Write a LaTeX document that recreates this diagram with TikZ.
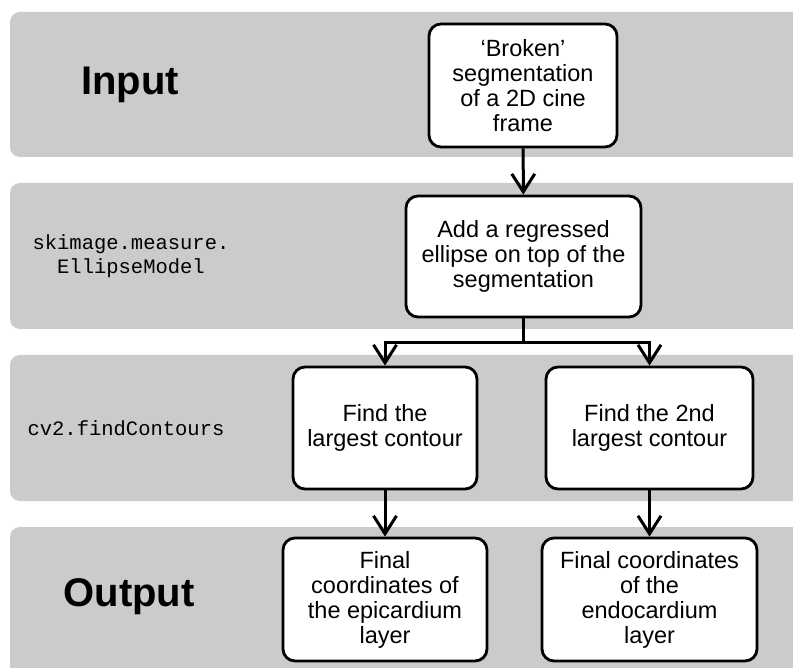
\documentclass[tikz,border=0pt]{standalone}
\usepackage{fontspec}
\setmainfont{Liberation Sans}
\setmonofont{Liberation Mono}
\usepackage{tikz}
\usetikzlibrary{arrows.meta,calc}
\definecolor{bandgray}{HTML}{CBCBCB}
\tikzset{
  band/.style={fill=bandgray,rounded corners=10pt},
  box/.style={draw,line width=2.8pt,fill=white,rounded corners=12pt,align=center,
    font=\fontsize{23.5}{25}\selectfont},
  flow/.style={line width=3pt,-{Straight Barb[length=18pt,width=23pt,line width=3pt]}},
  title/.style={font=\fontsize{40}{44}\selectfont\bfseries},
  code/.style={align=center,font=\fontsize{20.5}{24}\selectfont\ttfamily}
}
\begin{document}
\begin{tikzpicture}[x=1pt,y=-1pt]
\clip (0,0) rectangle (793,668);
\fill[white] (0,0) rectangle (793,668);

% grey bands
\fill[band] (10,12) rectangle (820,157);
\fill[band] (10,183) rectangle (820,329);
\fill[band] (10,355) rectangle (820,501);
\fill[band] (10,527) rectangle (820,690);

% band labels
\node[title] (input) at (130,85) {Input};
\node[code] (ellmodel) at (131,256) {skimage.measure.\\EllipseModel};
\node[code] (contours) at (126,428) {cv2.findContours};
\node[title] (output) at (129,597) {Output};

% steps
\node[box,minimum width=188pt,minimum height=123pt] (broken) at (523,85.5)
  {‘Broken’\\segmentation\\of a 2D cine\\frame};
\node[box,minimum width=235pt,minimum height=121pt] (ellipse) at (523.5,256.5)
  {Add a regressed\\ellipse on top of the\\segmentation};
\node[box,minimum width=184pt,minimum height=122pt] (largest) at (385,428)
  {Find the\\largest contour};
\node[box,minimum width=207pt,minimum height=122pt] (second) at (649.5,428)
  {Find the 2nd\\largest contour};
\node[box,minimum width=204pt,minimum height=123pt] (epi) at (385,599.5)
  {Final\\coordinates of\\the epicardium\\layer};
\node[box,minimum width=215pt,minimum height=123pt] (endo) at (649.5,599.5)
  {Final coordinates\\of the\\endocardium\\layer};

% arrows
\coordinate (fork) at (523.5,343);
\draw[flow] (broken) -- (ellipse);
\draw[line width=3pt] (ellipse) -- (fork);
\draw[flow] (fork) -| (largest);
\draw[flow] (fork) -| (second);
\draw[flow] (largest) -- (epi);
\draw[flow] (second) -- (endo);

\end{tikzpicture}
\end{document}
